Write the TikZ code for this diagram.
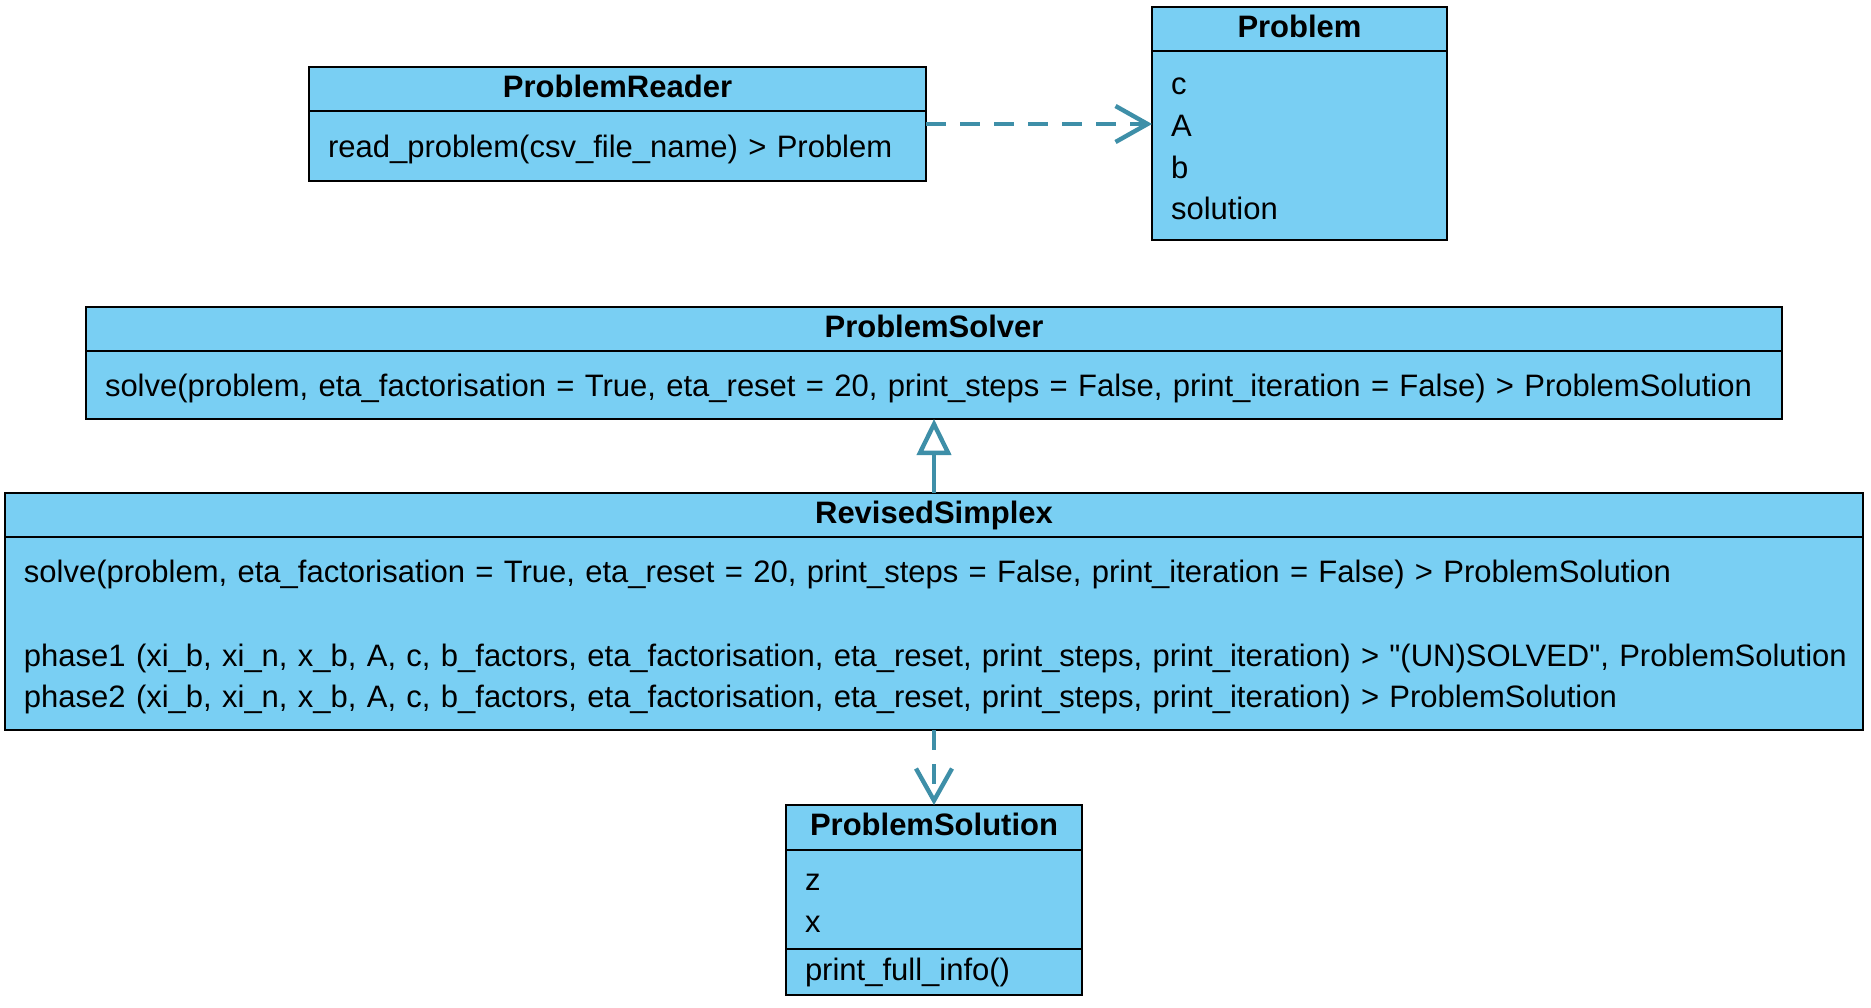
\documentclass[tikz,border=0pt]{standalone}
\usepackage{fontspec}
\setmainfont{Liberation Sans}
\usetikzlibrary{arrows.meta,positioning,calc}

\definecolor{umlblue}{RGB}{121,207,243}
\definecolor{linkteal}{RGB}{62,143,168}

\tikzset{
  classhead/.style={draw=black, fill=umlblue, line width=1pt, inner sep=0pt, outer sep=0pt,
    minimum height=22pt, text depth=3pt, font=\fontsize{15.5}{20.9}\selectfont\bfseries},
  classbox/.style={draw=black, fill=umlblue, line width=1pt, align=left, outer sep=0pt,
    inner xsep=9.5pt, inner ysep=0pt, font=\fontsize{15.5}{20.9}\selectfont},
  classbody/.style={classbox,
    execute at begin node={\rule{0pt}{15pt}},
    execute at end node={\rule[-3.4pt]{0pt}{3.4pt}}},
  uses/.style={linkteal, line width=2.2pt, dash pattern=on 10pt off 7pt,
    -{Straight Barb[length=16pt,width=18pt]}},
  inherits/.style={linkteal, line width=2.2pt,
    -{Triangle[length=18pt,width=17pt,fill=white]}}
}

\begin{document}
\begin{tikzpicture}[x=1pt,y=1pt]
    \useasboundingbox (0,0) rectangle (935.5,-503.5);

    % Reader and problem
    \node[classhead, minimum width=308.5pt, anchor=north] (readhead) at (308.75,-33.5) {ProblemReader};
    \node[classbody, below=0pt of readhead, minimum width=308.5pt, text width=289.5pt, minimum height=35pt] (readbody) {read\_problem(csv\_file\_name) > Problem};

    \node[classhead, minimum width=147.5pt, anchor=north] (probhead) at (649.75,-3.5) {Problem};
    \node[classbody, below=0pt of probhead, minimum width=147.5pt, text width=128.5pt, minimum height=94.5pt] (probbody) {c\\A\\b\\solution};

    % Solver interface
    \node[classhead, minimum width=848pt, anchor=north] (solvhead) at (467,-153.5) {ProblemSolver};
    \node[classbody, below=0pt of solvhead, minimum width=848pt, text width=829pt, minimum height=34pt] (solvbody) {\mbox{solve(problem, eta\_factorisation = True, eta\_reset = 20, print\_steps = False, print\_iteration = False) > ProblemSolution}};

    % Revised simplex
    \node[classhead, minimum width=929pt, anchor=north] (revhead) at (467,-246.5) {RevisedSimplex};
    \node[classbody, below=0pt of revhead, minimum width=929pt, text width=910pt, minimum height=96.5pt] (revbody) {%
      \mbox{solve(problem, eta\_factorisation = True, eta\_reset = 20, print\_steps = False, print\_iteration = False) > ProblemSolution}\\[20.9pt]
      \mbox{phase1 (xi\_b, xi\_n, x\_b, A, c, b\_factors, eta\_factorisation, eta\_reset, print\_steps, print\_iteration) > \textquotedbl(UN)SOLVED\textquotedbl, ProblemSolution}\\
      \mbox{phase2 (xi\_b, xi\_n, x\_b, A, c, b\_factors, eta\_factorisation, eta\_reset, print\_steps, print\_iteration) > ProblemSolution}};

    % Solution
    \node[classhead, minimum width=148pt, minimum height=22.5pt, anchor=north] (solhead) at (467,-402.5) {ProblemSolution};
    \node[classbody, below=0pt of solhead, minimum width=148pt, text width=129pt, minimum height=49.5pt] (solattr) {z\\x};
    \node[classbox, below=0pt of solattr, minimum width=148pt, text width=129pt, minimum height=23pt] (solmeth) {print\_full\_info()};

    % Links
    \coordinate (readmid) at ($(readhead.north east)!0.5!(readbody.south east)$);
    \draw[uses] (readmid) -- (readmid -| probbody.west);
    \draw[inherits] (revhead.north) -- (solvbody.south);
    \draw[uses] (revbody.south) -- (solhead.north);
\end{tikzpicture}
\end{document}
